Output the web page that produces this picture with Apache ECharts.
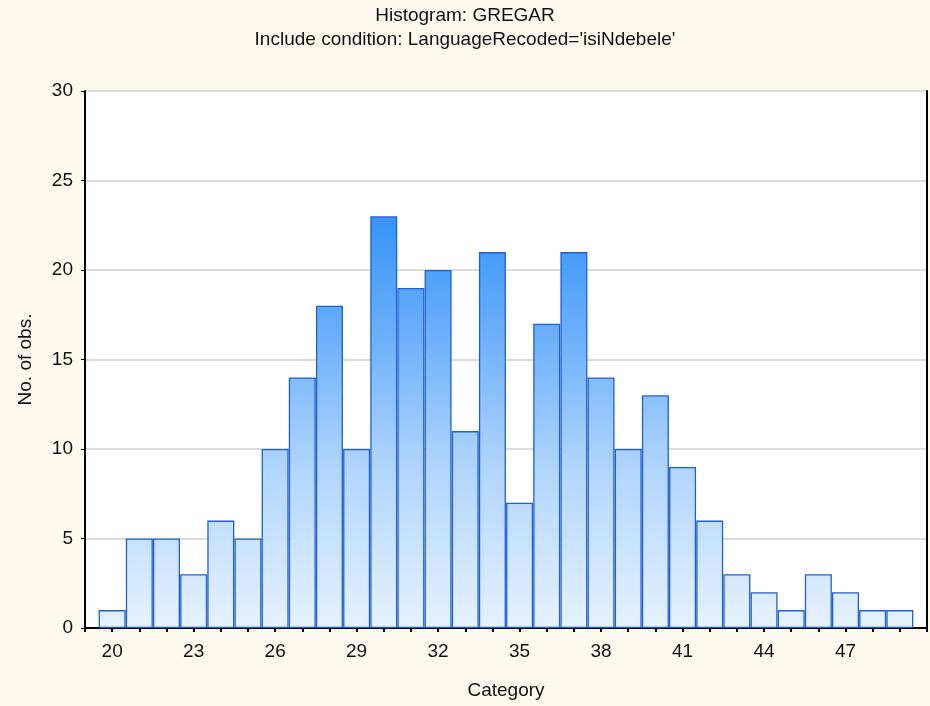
<!DOCTYPE html>
<html>
<head>
<meta charset="utf-8">
<script src="https://cdn.jsdelivr.net/npm/echarts@6/dist/echarts.min.js"></script>
<style>
  html, body { margin: 0; padding: 0; background: #fdf9ef; }
  #chart { width: 930px; height: 706px; }
</style>
</head>
<body>
<div id="chart"></div>
<script>
// histogram bins (category value) and counts
var categories = [20, 21, 22, 23, 24, 25, 26, 27, 28, 29, 30, 31, 32, 33, 34,
                  35, 36, 37, 38, 39, 40, 41, 42, 43, 44, 45, 46, 47, 48, 49]
var counts = [1, 5, 5, 3, 6, 5, 10, 14, 18, 10, 23, 19, 20, 11, 21,
              7, 17, 21, 14, 10, 13, 9, 6, 3, 2, 1, 3, 2, 1, 1]
var xLabels = [20, 23, 26, 29, 32, 35, 38, 41, 44, 47]

var chart = echarts.init(document.getElementById('chart'))

var barData = categories.map(function (c, i) { return [c, counts[i]] })

var font = 'Liberation Sans, Arial, sans-serif'

var option = {
    backgroundColor: '#fdf9ef',
    animation: false,
    title: [
        {
            text: 'Histogram: GREGAR',
            left: 'center', top: 1,
            textStyle: { fontFamily: font, fontSize: 19, fontWeight: 'normal', color: '#111' }
        },
        {
            text: "Include condition: LanguageRecoded='isiNdebele'",
            left: 'center', top: 25,
            textStyle: { fontFamily: font, fontSize: 19, fontWeight: 'normal', color: '#111' }
        }
    ],
    grid: { left: 85, top: 91, right: 2, bottom: 78, backgroundColor: '#fff', show: true, borderWidth: 0 },
    xAxis: [
        {
            type: 'value',
            min: 19, max: 50, interval: 1,
            name: 'Category',
            nameLocation: 'middle',
            nameGap: 53,
            nameTextStyle: { fontFamily: font, fontSize: 19, color: '#111' },
            axisLine: { lineStyle: { color: '#000', width: 2 } },
            axisTick: { inside: true, length: 4, lineStyle: { color: '#000', width: 2 } },
            axisLabel: {
                fontFamily: font, fontSize: 19, color: '#111', margin: 14,
                formatter: function (v) { return xLabels.indexOf(v) >= 0 ? String(v) : '' }
            },
            splitLine: { show: false }
        },
        {
            type: 'value', position: 'top',
            min: 19, max: 50, interval: 1,
            axisLine: { lineStyle: { color: '#000', width: 1 } },
            axisTick: { inside: true, length: 4, lineStyle: { color: '#000', width: 2 } },
            axisLabel: { show: false },
            splitLine: { show: false }
        }
    ],
    yAxis: [
        {
            type: 'value',
            min: 0, max: 30, interval: 5,
            name: 'No. of obs.',
            nameLocation: 'middle',
            nameGap: 50,
            nameTextStyle: { fontFamily: font, fontSize: 19, color: '#111' },
            axisLine: { show: true, lineStyle: { color: '#000', width: 2 } },
            axisTick: { show: true, length: 4, lineStyle: { color: '#000', width: 1 } },
            axisLabel: { fontFamily: font, fontSize: 19, color: '#111', margin: 12 },
            splitLine: { lineStyle: { color: '#dcdcdc', width: 2 } }
        },
        {
            type: 'value', position: 'right',
            min: 0, max: 30, interval: 5,
            axisLine: { show: true, lineStyle: { color: '#000', width: 2 } },
            axisTick: { show: false },
            axisLabel: { show: false },
            splitLine: { show: false }
        }
    ],
    series: [
        {
            type: 'bar',
            data: barData,
            barWidth: 27,
            itemStyle: {
                color: {
                    type: 'linear', global: true,
                    x: 0, y: 628, x2: 0, y2: 91,
                    colorStops: [
                        { offset: 0, color: '#e6f2fe' },
                        { offset: 0.3, color: '#b0d5fc' },
                        { offset: 0.55, color: '#6aaffa' },
                        { offset: 0.75, color: '#3a95f8' },
                        { offset: 1, color: '#2a86f0' }
                    ]
                },
                borderColor: '#1f5fd8',
                borderWidth: 1.3
            }
        }
    ]
}

chart.setOption(option)
</script>
</body>
</html>
